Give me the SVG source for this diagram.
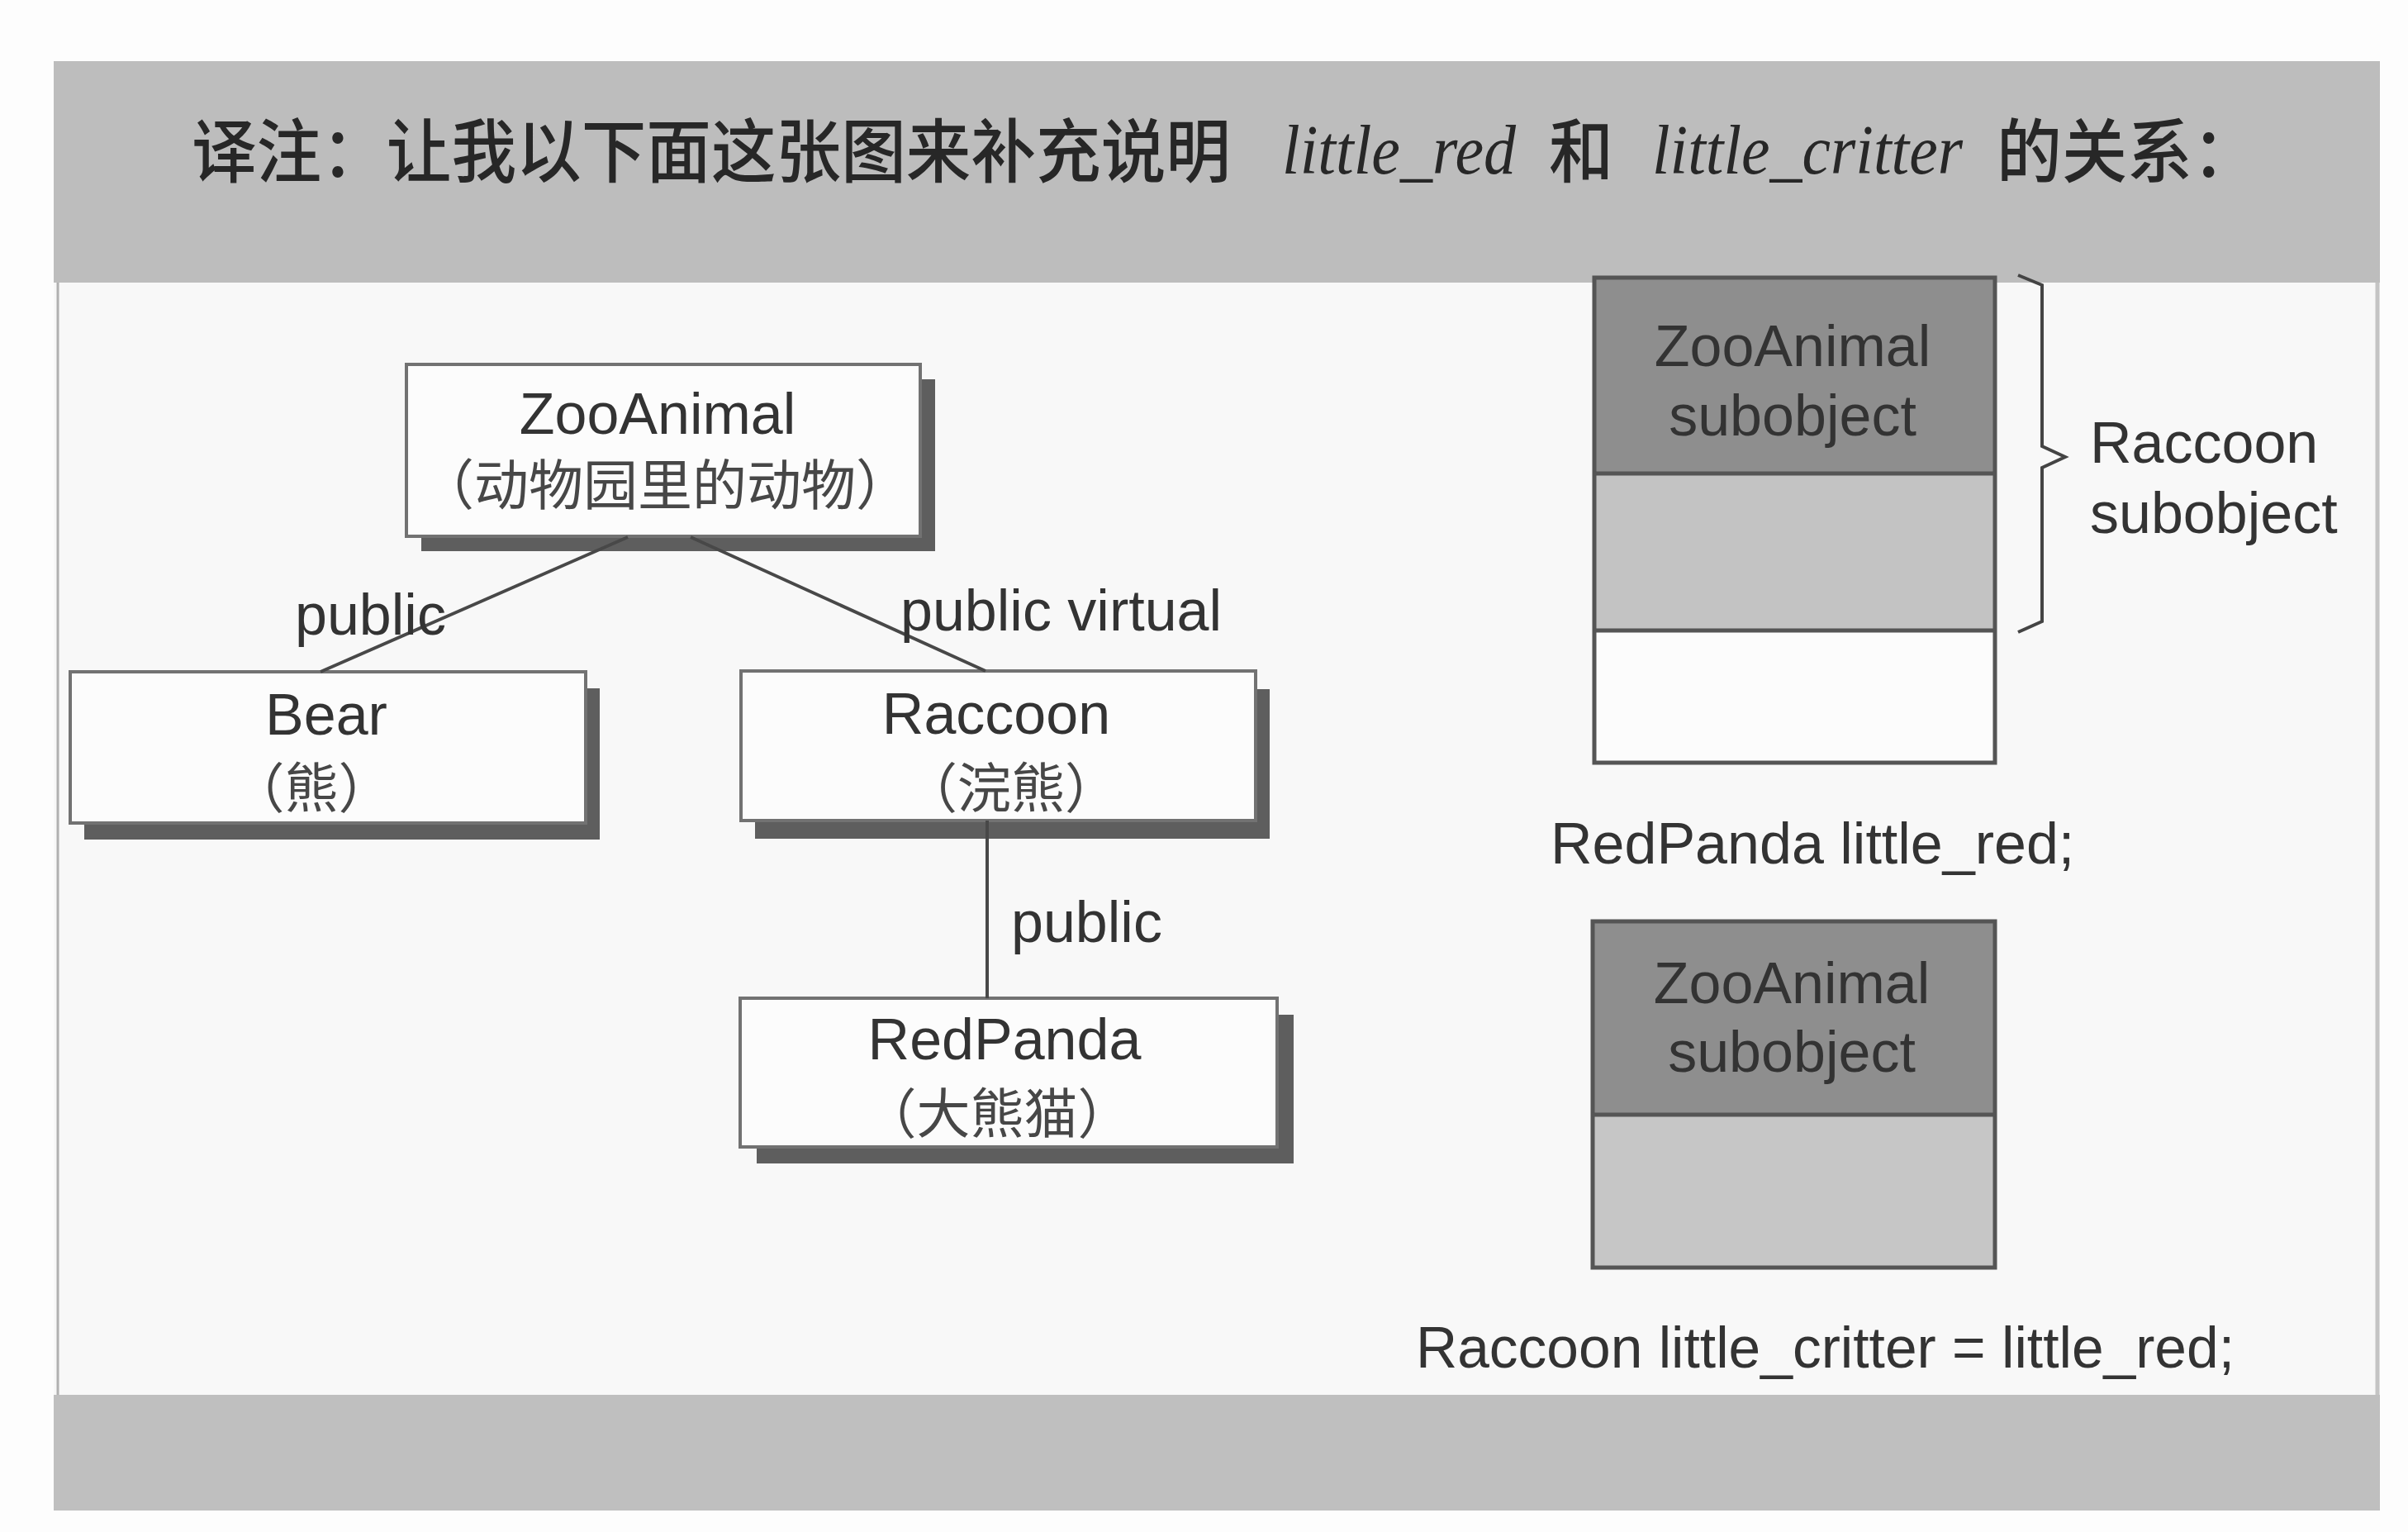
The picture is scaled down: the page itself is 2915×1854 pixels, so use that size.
<svg xmlns="http://www.w3.org/2000/svg" width="2915" height="1854" viewBox="0 0 2915 1854">
<defs>
<style>
.t{font-family:"Liberation Sans",Arial,sans-serif;font-size:70px;fill:#333}
.cn{font-family:"Noto Sans CJK SC","Liberation Sans",sans-serif;font-size:65px;fill:#474747}
.box{fill:#fcfcfc;stroke:#727272;stroke-width:4}
.sh{fill:#5e5e5e}
.conn{stroke:#484848;stroke-width:4;fill:none}
.ttl{font-family:"Noto Sans CJK SC",sans-serif;font-size:84px;font-weight:500;fill:#272727}
.it{font-family:"Liberation Serif",serif;font-style:italic;font-size:84px;fill:#272727}
.mem{fill:none;stroke:#555;stroke-width:5}
.mid{text-anchor:middle}
</style>
</defs>
<rect x="0" y="0" width="2915" height="1854" fill="#fdfdfd"/>
<rect x="65" y="74" width="2816" height="1754" fill="#f8f8f8"/>
<g id="header">
<rect x="65" y="74" width="2816" height="268" fill="#bdbdbd"/>
<text class="ttl" x="232" y="214" textLength="1258" lengthAdjust="spacingAndGlyphs">译注：让我以下面这张图来补充说明</text>
<text class="it" x="1552" y="210" textLength="283" lengthAdjust="spacingAndGlyphs">little_red</text>
<text class="ttl" x="1875" y="214" textLength="78" lengthAdjust="spacingAndGlyphs">和</text>
<text class="it" x="2000" y="210" textLength="376" lengthAdjust="spacingAndGlyphs">little_critter</text>
<text class="ttl" x="2417" y="214" textLength="316" lengthAdjust="spacingAndGlyphs">的关系：</text>
</g>
<rect id="footer" x="65" y="1688" width="2816" height="140" fill="#bfbfbf"/>
<line x1="70" y1="342" x2="70" y2="1688" stroke="#b0b0b0" stroke-width="3"/>
<line x1="2878" y1="342" x2="2878" y2="1688" stroke="#c4c4c4" stroke-width="5"/>

<g id="node-zooanimal">
<rect class="sh" x="510" y="459" width="622" height="208"/>
<rect class="box" x="492" y="441" width="622" height="208"/>
<text class="t mid" x="796" y="525">ZooAnimal</text>
<text class="cn mid" x="805" y="611" style="font-size:66px">（动物园里的动物）</text>
</g>
<g id="node-bear">
<rect class="sh" x="102" y="833" width="624" height="183"/>
<rect class="box" x="85" y="813" width="624" height="183"/>
<text class="t mid" x="395" y="889">Bear</text>
<text class="cn mid" x="377" y="977">（熊）</text>
</g>
<g id="node-raccoon">
<rect class="sh" x="914" y="834" width="623" height="181"/>
<rect class="box" x="897" y="812" width="623" height="181"/>
<text class="t mid" x="1206" y="888">Raccoon</text>
<text class="cn mid" x="1224" y="977">（浣熊）</text>
</g>
<g id="node-redpanda">
<rect class="sh" x="916" y="1228" width="650" height="180"/>
<rect class="box" x="896" y="1208" width="650" height="180"/>
<text class="t mid" x="1216" y="1282">RedPanda</text>
<text class="cn mid" x="1207" y="1371">（大熊猫）</text>
</g>

<g id="connectors">
<path class="conn" d="M760 650 L388 813"/>
<path class="conn" d="M836 650 L1193 812"/>
<path class="conn" d="M1195 993 L1195 1208"/>
<text class="t" x="357" y="768">public</text>
<text class="t" x="1090" y="763">public virtual</text>
<text class="t" x="1224" y="1140">public</text>
</g>

<g id="little-red">
<rect x="1930" y="336" width="485" height="237" fill="#8e8e8e"/>
<rect x="1930" y="573" width="485" height="190" fill="#c3c3c3"/>
<rect x="1930" y="763" width="485" height="160" fill="#fcfcfc"/>
<rect class="mem" x="1930" y="336" width="485" height="587"/>
<line class="mem" x1="1930" y1="573" x2="2415" y2="573"/>
<line class="mem" x1="1930" y1="763" x2="2415" y2="763"/>
<text class="t mid" x="2170" y="443">ZooAnimal</text>
<text class="t mid" x="2170" y="527">subobject</text>
<path d="M2443 333 L2472 345 L2472 540 L2500 553 L2472 566 L2472 752 L2443 765" fill="none" stroke="#444" stroke-width="4"/>
<text class="t" x="2530" y="560">Raccoon</text>
<text class="t" x="2530" y="645">subobject</text>
<text class="t" x="1877" y="1045">RedPanda little_red;</text>
</g>

<g id="little-critter">
<rect x="1928" y="1115" width="487" height="234" fill="#8e8e8e"/>
<rect x="1928" y="1349" width="487" height="185" fill="#c6c6c6"/>
<rect class="mem" x="1928" y="1115" width="487" height="419"/>
<line class="mem" x1="1928" y1="1349" x2="2415" y2="1349"/>
<text class="t mid" x="2169" y="1214">ZooAnimal</text>
<text class="t mid" x="2169" y="1297">subobject</text>
<text class="t" x="1714" y="1655" textLength="991" lengthAdjust="spacingAndGlyphs">Raccoon little_critter = little_red;</text>
</g>
</svg>
